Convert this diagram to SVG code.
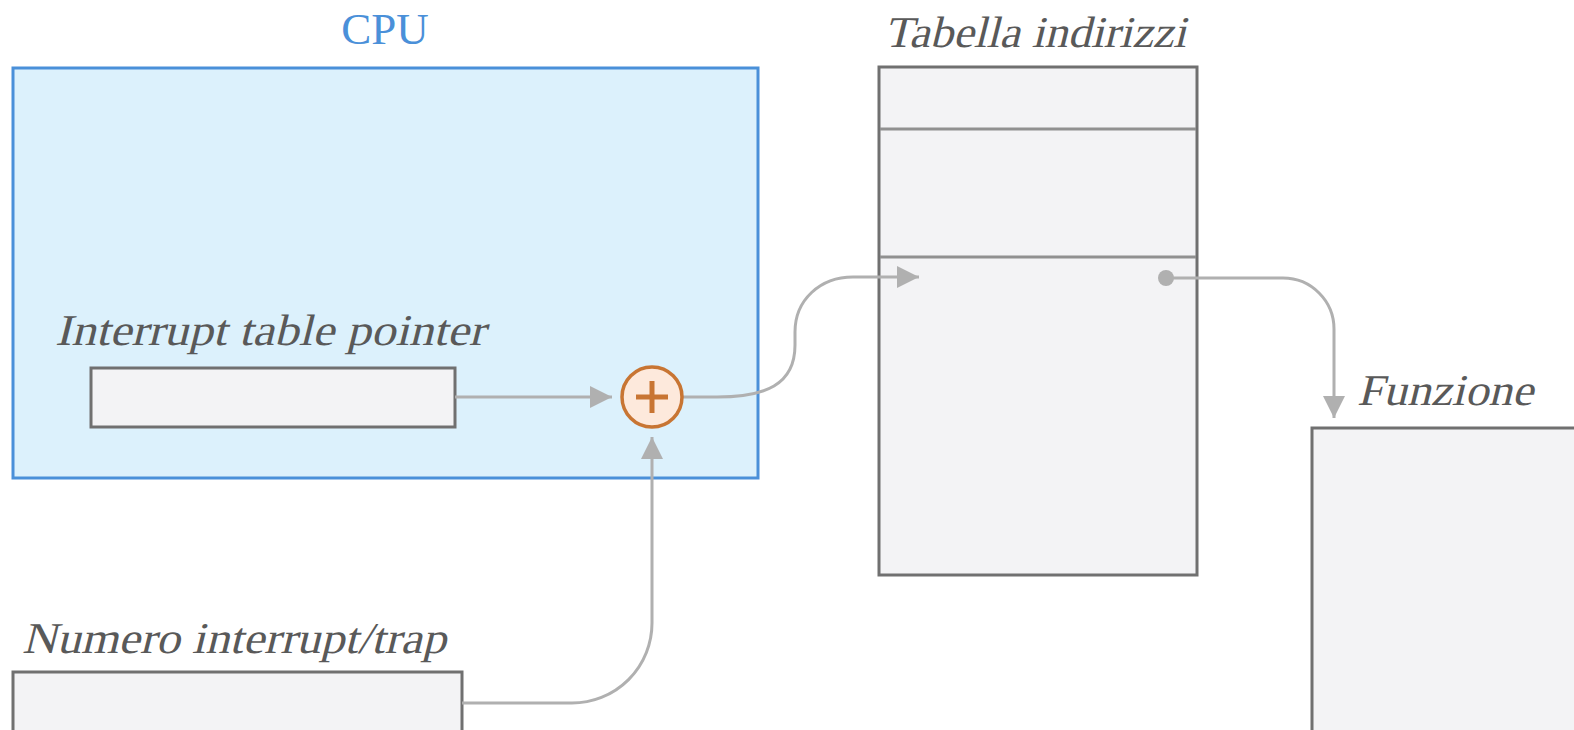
<svg xmlns="http://www.w3.org/2000/svg" width="1574" height="730" viewBox="0 0 1574 730">
<style>
.box{fill:#f3f3f5;stroke:#707070;stroke-width:3}
.conn{fill:none;stroke:#b0b0b0;stroke-width:3}
.it{font-family:"Liberation Serif",serif;font-size:44px;fill:#595959}
</style>
<defs>
<marker id="ah" markerUnits="userSpaceOnUse" markerWidth="22" markerHeight="22" viewBox="0 0 20 20" refX="20" refY="10" orient="auto">
<path d="M0,0 L20,10 L0,20 Z" fill="#b0b0b0"/>
</marker>
<marker id="dot" markerUnits="userSpaceOnUse" markerWidth="18" markerHeight="18" viewBox="0 0 18 18" refX="9" refY="9" orient="auto">
<circle cx="9" cy="9" r="8" fill="#b0b0b0"/>
</marker>
</defs>
<g id="cpu">
<rect x="13" y="68" width="745" height="410" fill="#dcf1fc" stroke="#4a90d9" stroke-width="3"/>
<text x="385" y="44" text-anchor="middle" font-family="Liberation Serif, serif" font-size="45" fill="#4a90d9">CPU</text>
</g>
<g id="itp">
<text class="it" transform="translate(55,345) skewX(-14)" x="0" y="0" textLength="430" lengthAdjust="spacingAndGlyphs">Interrupt table pointer</text>
<rect class="box" x="91" y="368" width="364" height="59"/>
</g>
<g id="numero">
<text class="it" transform="translate(22,653) skewX(-14)" x="0" y="0" textLength="424" lengthAdjust="spacingAndGlyphs">Numero interrupt/trap</text>
<rect class="box" x="13" y="672" width="449" height="100"/>
</g>
<g id="tabella">
<text class="it" transform="translate(884,47) skewX(-14)" x="0" y="0" textLength="302" lengthAdjust="spacingAndGlyphs">Tabella indirizzi</text>
<rect class="box" x="879" y="67" width="318" height="508"/>
<line x1="880" y1="129" x2="1196" y2="129" stroke="#909090" stroke-width="3"/>
<line x1="880" y1="257" x2="1196" y2="257" stroke="#909090" stroke-width="3"/>
</g>
<g id="funzione">
<text class="it" transform="translate(1357,405) skewX(-14)" x="0" y="0" textLength="176" lengthAdjust="spacingAndGlyphs">Funzione</text>
<rect class="box" x="1312" y="428" width="300" height="400"/>
</g>
<g id="connectors">
<line class="conn" x1="455" y1="397" x2="612" y2="397" marker-end="url(#ah)"/>
<path class="conn" d="M462,703 H572 A80,80 0 0 0 652,623 V437" marker-end="url(#ah)"/>
<path class="conn" d="M683,397 H717 C765,397 795,385 795,345 V332 C795,300 820,277 853,277 H919" marker-end="url(#ah)"/>
<path class="conn" d="M1166,278 H1283 A51,51 0 0 1 1334,329 V418" marker-start="url(#dot)" marker-end="url(#ah)"/>
</g>
<g id="plus">
<circle cx="652" cy="397" r="30" fill="#fde9dc" stroke="#c87533" stroke-width="3.5"/>
<line x1="636" y1="397" x2="668" y2="397" stroke="#c87533" stroke-width="5"/>
<line x1="652" y1="381" x2="652" y2="413" stroke="#c87533" stroke-width="5"/>
</g>
</svg>
